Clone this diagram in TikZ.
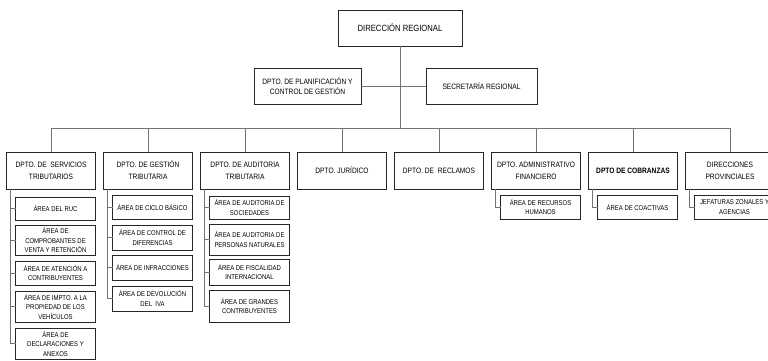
\documentclass[tikz,border=0pt]{standalone}
\usepackage{fontspec}
\setmainfont{Liberation Sans}[FakeStretch=0.85]
\usetikzlibrary{shadows}

\tikzset{
  caja/.style={draw=black!85, line width=0.65pt, fill=white, inner sep=1pt,
    align=center, text=black,
    drop shadow={shadow xshift=0.9pt, shadow yshift=-0.9pt, fill=black!60, opacity=1}},
  jefe/.style={caja, minimum width=124pt, minimum height=36pt, font=\fontsize{9}{11}\selectfont},
  staff/.style={caja, minimum height=36pt, font=\fontsize{7.8}{10}\selectfont},
  dpto/.style={caja, minimum width=89pt, minimum height=37pt, font=\fontsize{7.8}{12}\selectfont},
  area/.style={caja, minimum width=80pt, font=\fontsize{7}{9.5}\selectfont},
  enlace/.style={draw=black!55, line width=0.7pt},
}

\begin{document}
\begin{tikzpicture}[x=1pt, y=-1pt, line cap=rect]

    \useasboundingbox (0,0) rectangle (768,361);

    % Direccion y staff
    \node[jefe] (dir) at (400,28) {DIRECCIÓN REGIONAL};
    \node[staff, minimum width=107pt] (plan) at (307.5,86) {DPTO. DE PLANIFICACIÓN Y\\CONTROL DE GESTIÓN};
    \node[staff, minimum width=111pt] (secr) at (481.5,86) {SECRETARÍA REGIONAL};
    \coordinate (bus) at (400,128);

    % Departamentos
    \node[dpto] (d1) at (51,170.5)  {DPTO. DE \ SERVICIOS\\TRIBUTARIOS};
    \node[dpto] (d2) at (148,170.5) {DPTO. DE GESTIÓN\\TRIBUTARIA};
    \node[dpto] (d3) at (245,170.5) {DPTO. DE AUDITORIA\\TRIBUTARIA};
    \node[dpto] (d4) at (342,170.5) {DPTO. JURÍDICO};
    \node[dpto] (d5) at (439,170.5) {DPTO. DE \ RECLAMOS};
    \node[dpto] (d6) at (536,170.5) {DPTO. ADMINISTRATIVO\\FINANCIERO};
    \node[dpto] (d7) at (633,170.5) {\textbf{DPTO DE COBRANZAS}};
    \node[dpto] (d8) at (730,170.5) {DIRECCIONES\\PROVINCIALES};

    % Areas - servicios tributarios
    \node[area, minimum height=23pt] (a11) at (55.5,208.5) {ÁREA DEL RUC};
    \node[area, minimum height=30pt] (a12) at (55.5,240)   {ÁREA DE\\COMPROBANTES DE\\VENTA Y RETENCIÓN};
    \node[area, minimum height=24pt] (a13) at (55.5,273)   {ÁREA DE ATENCIÓN A\\CONTRIBUYENTES};
    \node[area, minimum height=31pt] (a14) at (55.5,306.5) {ÁREA DE IMPTO. A LA\\PROPIEDAD DE LOS\\VEHÍCULOS};
    \node[area, minimum height=31pt] (a15) at (55.5,343.5) {ÁREA DE\\DECLARACIONES Y\\ANEXOS};

    % Areas - gestion tributaria
    \node[area, minimum height=24pt] (a21) at (152.5,207)   {ÁREA DE CICLO BÁSICO};
    \node[area, minimum height=25pt] (a22) at (152.5,237.5) {ÁREA DE CONTROL DE\\DIFERENCIAS};
    \node[area, minimum height=25pt] (a23) at (152.5,267.5) {ÁREA DE INFRACCIONES};
    \node[area, minimum height=25pt] (a24) at (152.5,298.5) {ÁREA DE DEVOLUCIÓN\\DEL \ IVA};

    % Areas - auditoria tributaria
    \node[area, minimum height=23pt] (a31) at (249.5,207.5) {ÁREA DE AUDITORIA DE\\SOCIEDADES};
    \node[area, minimum height=31pt] (a32) at (249.5,239.5) {ÁREA DE AUDITORIA DE\\PERSONAS NATURALES};
    \node[area, minimum height=26pt] (a33) at (249.5,272)   {ÁREA DE FISCALIDAD\\INTERNACIONAL};
    \node[area, minimum height=32pt] (a34) at (249.5,306)   {ÁREA DE GRANDES\\CONTRIBUYENTES};

    % Areas - resto
    \node[area, minimum height=24pt] (a61) at (540.5,207) {ÁREA DE RECURSOS\\HUMANOS};
    \node[area, minimum height=24pt] (a71) at (637.5,207) {ÁREA DE COACTIVAS};
    \node[area, minimum height=24pt] (a81) at (734.5,207) {JEFATURAS ZONALES Y\\AGENCIAS};

    % Lineas de mando
    \draw[enlace] (dir.south) -- (bus);
    \draw[enlace] (plan.east) -- (secr.west);
    \foreach \d in {d1,d2,d3,d4,d5,d6,d7,d8}
        \draw[enlace] (\d.north) |- (bus);

    % Lineas hacia las areas
    \foreach \a in {a11,a12,a13,a14,a15}
        \draw[enlace] ([xshift=4.5pt]d1.south west) |- (\a.west);
    \foreach \a in {a21,a22,a23,a24}
        \draw[enlace] ([xshift=4.5pt]d2.south west) |- (\a.west);
    \foreach \a in {a31,a32,a33,a34}
        \draw[enlace] ([xshift=4.5pt]d3.south west) |- (\a.west);
    \draw[enlace] ([xshift=4.5pt]d6.south west) |- (a61.west);
    \draw[enlace] ([xshift=4.5pt]d7.south west) |- (a71.west);
    \draw[enlace] ([xshift=4.5pt]d8.south west) |- (a81.west);

\end{tikzpicture}
\end{document}
